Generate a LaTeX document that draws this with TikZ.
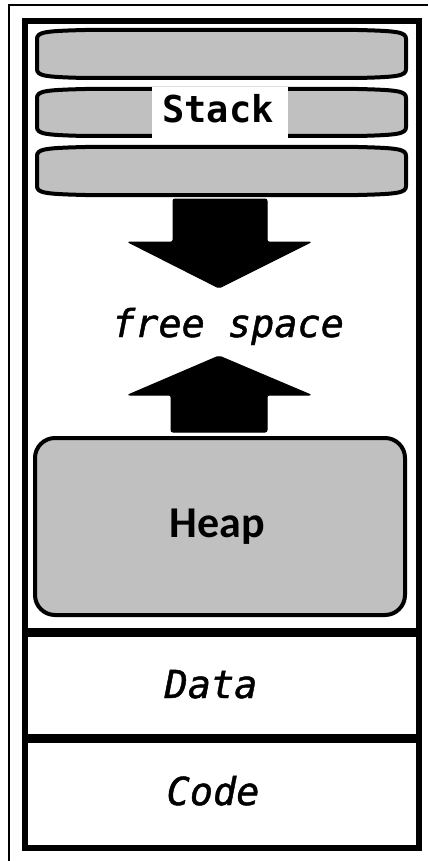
\documentclass[tikz,border=0pt]{standalone}
\usepackage{fontspec}
\newfontfamily\monofont{DejaVu Sans Mono}
\newfontfamily\monoitfont[UprightFont=* Oblique, FakeBold=1.2]{DejaVu Sans Mono}
\newfontfamily\headfont{Carlito}
\definecolor{cellgray}{HTML}{C0C0C0}
\newcommand\pillpath[2]{%
  (37,#1+9) .. controls (37,#1+2) and (45,#1+1) .. (85,#1) -- (358,#1)
  .. controls (398,#1+1) and (406,#1+2) .. (406,#1+9) -- (406,#2-9)
  .. controls (406,#2-2) and (398,#2-1) .. (358,#2) -- (85,#2)
  .. controls (45,#2-1) and (37,#2-2) .. (37,#2-9) -- cycle}
\tikzset{
  pill/.style={draw=black, line width=4pt, fill=cellgray, line join=round},
  thinframe/.style={draw=black, line width=1.6pt},
  thickframe/.style={draw=black, line width=5.5pt},
  sep/.style={draw=black, line width=9pt},
  blockarrow/.style={fill=black, draw=black, line width=1pt, rounded corners=2pt},
  labelit/.style={font=\monoitfont\fontsize{38.5}{38.5}\selectfont, inner sep=0pt},
}
\begin{document}
\begin{tikzpicture}[x=1pt,y=-1pt]
\useasboundingbox (0,0) rectangle (428,861);
\fill[white] (0,0) rectangle (428,861);
% outer thin frame (cropped)
\draw[thinframe] (9,861) -- (9,5) -- (428,5);
% inner thick frame
\draw[thickframe] (25,21) rectangle (419,848);
% stack pills
\draw[pill] \pillpath{30}{78};
\draw[pill] \pillpath{89}{136};
\draw[pill] \pillpath{147}{195};
\node[fill=white, minimum width=136pt, minimum height=51pt, inner sep=0pt] (stackbg) at (220,112.5) {};
\node[font=\monofont\bfseries\fontsize{37}{37}\selectfont, inner sep=0pt, anchor=base] (stack) at (218,123) {Stack};
% down arrow
\draw[blockarrow] (173,199) -- (267,199) -- (267,242) -- (311,242) -- (219,288) -- (128,242) -- (173,242) -- cycle;
% free space
\node[labelit, anchor=base] (free) at (228,337) {free space};
% up arrow
\draw[blockarrow] (171,432) -- (267,432) -- (267,395) -- (311,395) -- (219,356) -- (128,395) -- (171,395) -- cycle;
% heap
\draw[pill, rounded corners=20pt] (35,438) rectangle (405,615);
\node[font=\headfont\bfseries\fontsize{44}{44}\selectfont, inner sep=0pt, anchor=base] (heap) at (217,537) {Heap};
% separators
\draw[sep] (25,632) -- (419,632);
\draw[sep] (25,738) -- (419,738);
\node[labelit, anchor=base] (data) at (211,698) {Data};
\node[labelit, anchor=base] (code) at (213,805) {Code};
\end{tikzpicture}
\end{document}
